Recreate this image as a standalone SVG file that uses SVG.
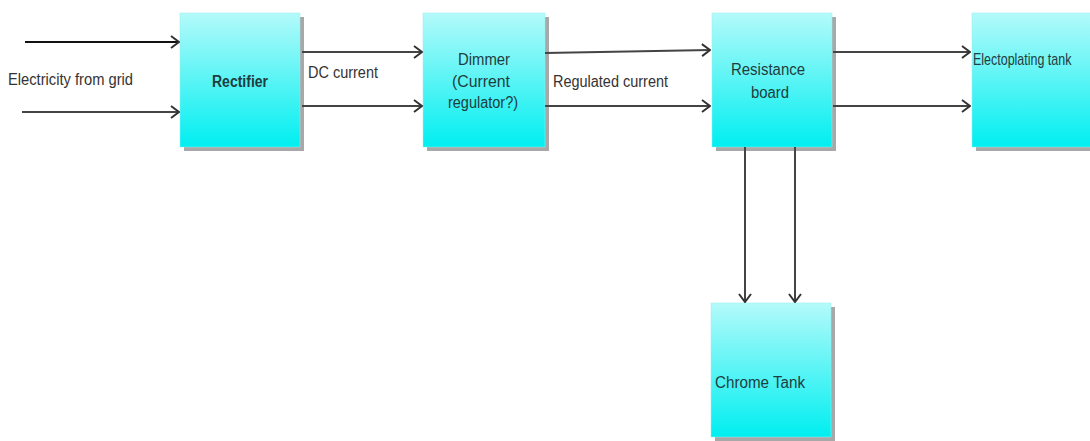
<svg xmlns="http://www.w3.org/2000/svg" width="1090" height="441" viewBox="0 0 1090 441">
<style>
.box{fill:url(#g);stroke:#9ee;stroke-width:0.5}
.sh{fill:#a8a8a8}
.t{font-family:"Liberation Sans",Arial,sans-serif;font-size:16px;fill:#1f3d3d}
.o{font-family:"Liberation Sans",Arial,sans-serif;font-size:16px;fill:#333}
.c{fill:none;stroke:#444;stroke-width:2}
.k{stroke:#111}
</style>
<defs>
<linearGradient id="g" x1="0" y1="0" x2="0" y2="1">
<stop offset="0" stop-color="#b4fafa"/>
<stop offset="1" stop-color="#00eef0"/>
</linearGradient>
<marker id="a" viewBox="0 0 10 14" refX="9" refY="7" markerWidth="10" markerHeight="14" markerUnits="userSpaceOnUse" orient="auto">
<path d="M1,1 L9,7 L1,13" fill="none" stroke="#333" stroke-width="2"/>
</marker>
</defs>
<g id="rectifier">
<rect class="sh" x="184" y="17" width="120" height="134"/>
<rect class="box" x="180" y="13" width="120" height="134"/>
<text class="t" x="240" y="87" text-anchor="middle" font-weight="bold" textLength="56" lengthAdjust="spacingAndGlyphs">Rectifier</text>
</g>
<g id="dimmer">
<rect class="sh" x="427" y="17" width="122" height="134"/>
<rect class="box" x="423" y="13" width="122" height="134"/>
<text class="t" x="484" y="65" text-anchor="middle" textLength="52" lengthAdjust="spacingAndGlyphs">Dimmer</text>
<text class="t" x="481" y="87" text-anchor="middle" textLength="58" lengthAdjust="spacingAndGlyphs">(Current</text>
<text class="t" x="483" y="108" text-anchor="middle" textLength="70" lengthAdjust="spacingAndGlyphs">regulator?)</text>
</g>
<g id="resistance">
<rect class="sh" x="716" y="17" width="120" height="134"/>
<rect class="box" x="712" y="13" width="120" height="134"/>
<text class="t" x="768" y="75" text-anchor="middle" textLength="74" lengthAdjust="spacingAndGlyphs">Resistance</text>
<text class="t" x="770" y="98" text-anchor="middle" textLength="38" lengthAdjust="spacingAndGlyphs">board</text>
</g>
<g id="electroplating">
<rect class="sh" x="976" y="17" width="120" height="134"/>
<rect class="box" x="972" y="13" width="120" height="134"/>
<text class="t" transform="translate(973,65) scale(0.78,1)" x="0" y="0">Electoplating tank</text>
</g>
<g id="chrome">
<rect class="sh" x="715" y="307" width="120" height="134"/>
<rect class="box" x="711" y="303" width="120" height="134"/>
<text class="t" x="715" y="388" textLength="90" lengthAdjust="spacingAndGlyphs">Chrome Tank</text>
</g>
<g id="labels">
<text class="o" x="8" y="85" textLength="125" lengthAdjust="spacingAndGlyphs">Electricity from grid</text>
<text class="o" x="308" y="78" textLength="70" lengthAdjust="spacingAndGlyphs">DC current</text>
<text class="o" x="553" y="87" textLength="115" lengthAdjust="spacingAndGlyphs">Regulated current</text>
</g>
<g id="connectors">
<line class="c k" x1="25" y1="42" x2="179" y2="42" marker-end="url(#a)"/>
<line class="c" x1="22" y1="112" x2="179" y2="112" marker-end="url(#a)"/>
<line class="c" x1="302" y1="52" x2="422" y2="52" marker-end="url(#a)"/>
<line class="c" x1="302" y1="106" x2="422" y2="106" marker-end="url(#a)"/>
<line class="c" x1="545" y1="53" x2="710" y2="50" marker-end="url(#a)"/>
<line class="c" x1="545" y1="106" x2="710" y2="106" marker-end="url(#a)"/>
<line class="c" x1="833" y1="52" x2="970" y2="52" marker-end="url(#a)"/>
<line class="c" x1="833" y1="106" x2="970" y2="106" marker-end="url(#a)"/>
<line class="c" x1="745" y1="147" x2="745" y2="302" marker-end="url(#a)"/>
<line class="c" x1="795" y1="147" x2="795" y2="302" marker-end="url(#a)"/>
</g>
</svg>
